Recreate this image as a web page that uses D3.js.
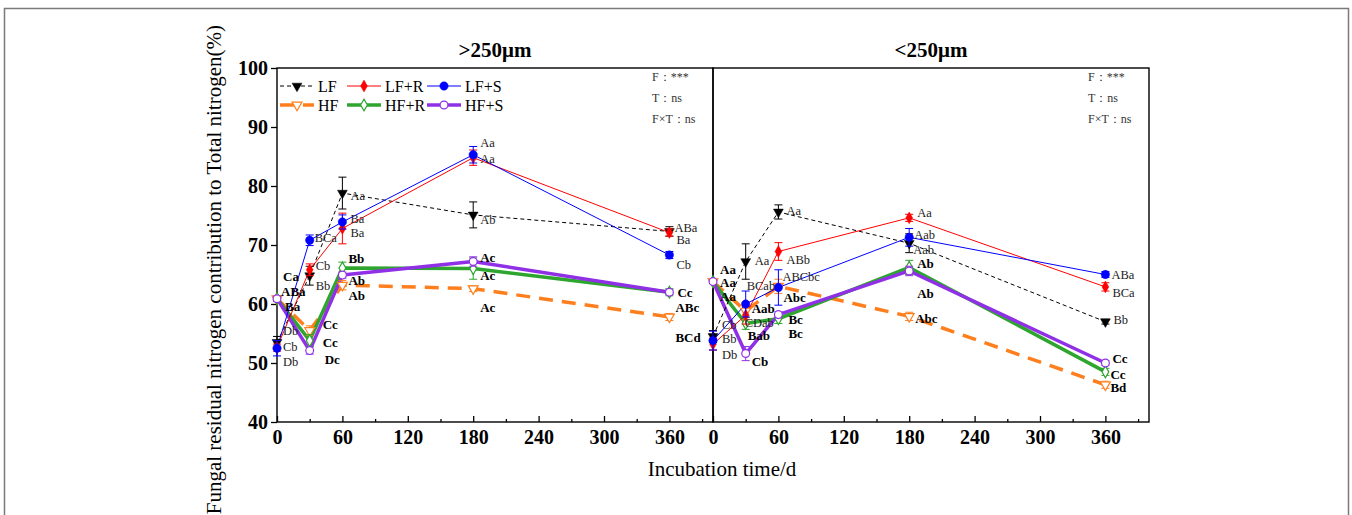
<!DOCTYPE html>
<html lang="en">
<head>
<meta charset="utf-8">
<title>Fungal residual nitrogen contribution</title>
<script src="https://cdn.jsdelivr.net/npm/d3@7"></script>
<style>
  body { margin: 0; background: #fff; }
  svg { display: block; }
</style>
</head>
<body>
<svg id="chart" width="1352" height="515"></svg>
<script>
// ---- data ----
const days = [0, 30, 60, 180, 360];
const seriesNames = ["LF", "LF+R", "LF+S", "HF", "HF+R", "HF+S"];
const panelTitles = [">250μm", "<250μm"];
const xTicks = [0, 60, 120, 180, 240, 300, 360];
const xMinorTicks = [30, 90, 150, 210, 270, 330, 390];
const yTicks = [40, 50, 60, 70, 80, 90, 100];
const statLines = ["F：***", "T：ns", "F×T：ns"];

// >250μm aggregates
const coarseLF  = [53.5, 64.8, 78.8, 75.1, 72.3];
const coarseLFR = [52.6, 65.8, 72.8, 84.8, 72.1];
const coarseLFS = [52.5, 70.8, 73.9, 85.3, 68.3];
const coarseHF  = [60.9, 55.5, 63.2, 62.6, 57.8];
const coarseHFR = [60.9, 53.8, 66.1, 66.0, 62.0];
const coarseHFS = [60.9, 52.1, 64.9, 67.2, 62.0];
const coarseErr = [
  [1.0, 1.6, 2.7, 2.2, 0.8],
  [0.6, 1.0, 2.6, 1.3, 0.6],
  [1.3, 0.9, 1.2, 1.4, 0.6],
  [0.4, 0.8, 0.8, 0.5, 0.6],
  [0.4, 1.0, 1.0, 1.8, 0.6],
  [0.4, 0.6, 0.5, 0.8, 0.4]
];
const coarseLetters = [
  ["Db", "Bb", "Aa", "Ab", "ABa"],
  ["Cb", "Cb", "Ba", "Aa", "Ba"],
  ["Db", "BCa", "Ba", "Aa", "Cb"],
  ["Ca", "Cc", "Ab", "Ac", "BCd"],
  ["ABa", "Cc", "Bb", "Ac", "ABc"],
  ["Ba", "Dc", "Ab", "Ac", "Cc"]
];

// <250μm aggregates
const fineLF  = [54.5, 67.2, 75.6, 70.3, 57.0];
const fineLFR = [53.2, 58.1, 68.9, 74.6, 62.9];
const fineLFS = [53.8, 60.0, 62.8, 71.3, 65.0];
const fineHF  = [63.8, 58.8, 63.0, 57.9, 46.3];
const fineHFR = [63.8, 56.7, 57.5, 66.2, 48.5];
const fineHFS = [63.8, 51.6, 58.2, 65.6, 50.0];
const fineErr = [
  [1.0, 3.0, 1.2, 1.6, 0.4],
  [1.0, 1.5, 1.5, 0.6, 0.7],
  [1.6, 2.2, 3.0, 1.5, 0.5],
  [0.3, 1.5, 1.2, 0.7, 0.6],
  [0.3, 1.0, 0.8, 1.2, 0.6],
  [0.3, 1.2, 0.5, 0.8, 0.4]
];
const fineLetters = [
  ["Cb", "Aa", "Aa", "Aab", "Bb"],
  ["Db", "CDab", "ABb", "Aa", "BCa"],
  ["Bb", "BCab", "ABCbc", "Aab", "ABa"],
  ["Aa", "Aab", "Abc", "Abc", "Bd"],
  ["Aa", "Bab", "Bc", "Ab", "Cc"],
  ["Aa", "Cb", "Bc", "Ab", "Cc"]
];

// ---- styling / layout ----
const serif = "'Liberation Serif', 'Times New Roman', serif";
const styles = [
  { color: "#000000", width: 1,   dash: "4,3",  symbol: d3.symbolTriangle, rot: 180, fill: true,  size: 42 },
  { color: "#ff0000", width: 1,   dash: null,   symbol: d3.symbolDiamond,  rot: 0,   fill: true,  size: 40 },
  { color: "#0000ff", width: 1,   dash: null,   symbol: d3.symbolCircle,   rot: 0,   fill: true,  size: 55 },
  { color: "#ff7f1e", width: 3.5, dash: "14,9", symbol: d3.symbolTriangle, rot: 180, fill: false, size: 42 },
  { color: "#2ea52e", width: 3.5, dash: null,   symbol: d3.symbolDiamond,  rot: 0,   fill: false, size: 40 },
  { color: "#9030e6", width: 3.5, dash: null,   symbol: d3.symbolCircle,   rot: 0,   fill: false, size: 48 }
];

// letter label nudges [dx, dy] in px, relative to each point
const coarseNudge = [
  [[6, -12], [6, 10], [8, 2], [7, 5], [5, -4]],
  [[6, -1], [6, -4], [8, 4], [7, 1], [7, 7]],
  [[6, 13], [5, -3], [8, -3], [7, -12], [7, 9]],
  [[6, -22], [13, -6], [6, 10], [7, 19], [6, 21]],
  [[4, -7], [13, 2], [6, -10], [7, 7], [6, 15]],
  [[8, 8], [15, 9], [6, 5], [7, -4], [8, 0]]
];
const fineNudge = [
  [[9, -12], [9, -1], [8, -1], [4, 6], [8, -2]],
  [[9, 10], [-1, 7], [8, 8], [8, -5], [7, 6]],
  [[9, -2], [1, -19], [4, -11], [5, -3], [6, 0]],
  [[7, -12], [6, -3], [5, 11], [6, 2], [5, 3]],
  [[7, 1], [2, 12], [10, 15], [8, -4], [5, 3]],
  [[7, 15], [6, 8], [10, 5], [8, 23], [7, -5]]
];

const panels = [
  { x0: 277, means: [coarseLF, coarseLFR, coarseLFS, coarseHF, coarseHFR, coarseHFS],
    err: coarseErr, letters: coarseLetters, nudge: coarseNudge, legend: true },
  { x0: 713, means: [fineLF, fineLFR, fineLFS, fineHF, fineHFR, fineHFS],
    err: fineErr, letters: fineLetters, nudge: fineNudge, legend: false }
];

const panelW = 436, plotTop = 68, plotBottom = 422;
const svg = d3.select("#chart").attr("font-family", serif);

// outer figure frame
svg.append("rect").attr("x", 4.5).attr("y", 8.5).attr("width", 1344).attr("height", 520)
  .attr("fill", "none").attr("stroke", "#7a7a7a").attr("stroke-width", 1.5);

const y = d3.scaleLinear().domain([40, 100]).range([plotBottom, plotTop]);

const symbolPath = (s) => d3.symbol().type(s.symbol).size(s.size)();

panels.forEach((p, pi) => {
  const x = d3.scaleLinear().domain([0, 400]).range([p.x0, p.x0 + panelW]);
  const g = svg.append("g");

  // x axis major + minor ticks (inward)
  const xa = g.append("g").attr("transform", `translate(0,${plotBottom})`)
    .call(d3.axisBottom(x).tickValues(xTicks).tickSizeInner(-6).tickSizeOuter(0).tickPadding(8));
  xa.attr("font-family", serif).attr("font-size", 20).attr("font-weight", "bold");
  xa.selectAll("text").attr("fill", "#000");
  xa.select(".domain").remove();
  xa.selectAll("line").attr("stroke-width", 1.3);
  const xm = g.append("g").attr("transform", `translate(0,${plotBottom})`)
    .call(d3.axisBottom(x).tickValues(xMinorTicks).tickSizeInner(-3).tickSizeOuter(0).tickFormat(""));
  xm.select(".domain").remove();
  xm.selectAll("line").attr("stroke-width", 1.3);

  if (pi === 0) {
    const ya = g.append("g").attr("transform", `translate(${p.x0},0)`)
      .call(d3.axisLeft(y).tickValues(yTicks).tickSize(6).tickPadding(3));
    ya.attr("font-family", serif).attr("font-size", 20).attr("font-weight", "bold");
    ya.select(".domain").remove();
    ya.selectAll("line").attr("stroke-width", 1.3);
    ya.selectAll("text").attr("fill", "#000");
  }

  // panel frame
  g.append("rect").attr("x", p.x0).attr("y", plotTop).attr("width", panelW).attr("height", plotBottom - plotTop)
    .attr("fill", "none").attr("stroke", "#000").attr("stroke-width", 1.4);

  // title
  g.append("text").attr("x", p.x0 + panelW / 2).attr("y", 57).attr("text-anchor", "middle")
    .attr("font-size", 21).attr("font-weight", "bold").text(panelTitles[pi]);

  // stats
  statLines.forEach((t, i) => {
    g.append("text").attr("x", p.x0 + 375).attr("y", 81 + i * 21)
      .attr("font-size", 12).attr("fill", "#333").text(t);
  });

  // series: HF group first, then LF group on top
  const order = [3, 4, 5, 0, 1, 2];
  const line = d3.line().x((d, i) => x(days[i])).y(d => y(d));
  order.forEach(si => {
    const s = styles[si];
    g.append("path").datum(p.means[si]).attr("d", line)
      .attr("fill", "none").attr("stroke", s.color).attr("stroke-width", s.width)
      .attr("stroke-dasharray", s.dash).attr("stroke-linejoin", "round");
  });
  order.forEach(si => {
    const s = styles[si];
    const vals = p.means[si];
    const eg = g.append("g").attr("stroke", s.color).attr("stroke-width", 1);
    vals.forEach((v, i) => {
      const e = p.err[si][i], cx = x(days[i]);
      eg.append("line").attr("x1", cx).attr("x2", cx).attr("y1", y(v - e)).attr("y2", y(v + e));
      [v - e, v + e].forEach(w => {
        eg.append("line").attr("x1", cx - 4).attr("x2", cx + 4).attr("y1", y(w)).attr("y2", y(w));
      });
    });
    g.selectAll(null).data(vals).enter().append("path")
      .attr("d", symbolPath(s))
      .attr("transform", (d, i) => `translate(${x(days[i])},${y(d)}) rotate(${s.rot})`)
      .attr("fill", s.fill ? s.color : "#fff")
      .attr("stroke", s.color).attr("stroke-width", s.fill ? 0.5 : 1.2);
  });

  // significance letters
  order.forEach(si => {
    const bold = si >= 3;
    p.means[si].forEach((v, i) => {
      const n = p.nudge[si][i];
      g.append("text").attr("x", x(days[i]) + n[0]).attr("y", y(v) + n[1] + 4.5)
        .attr("font-size", bold ? 13 : 12.5).attr("font-weight", bold ? "bold" : "normal")
        .attr("fill", bold ? "#000" : "#222").text(p.letters[si][i]);
    });
  });

  // legend
  if (p.legend) {
    const cols = [280, 347, 427];
    seriesNames.forEach((name, si) => {
      const s = styles[si];
      const lx = cols[si % 3], ly = si < 3 ? 86 : 105;
      g.append("line").attr("x1", lx).attr("x2", lx + 34).attr("y1", ly).attr("y2", ly)
        .attr("stroke", s.color).attr("stroke-width", s.width).attr("stroke-dasharray", s.dash);
      g.append("path").attr("d", symbolPath(s))
        .attr("transform", `translate(${lx + 17},${ly}) rotate(${s.rot})`)
        .attr("fill", s.fill ? s.color : "#fff").attr("stroke", s.color)
        .attr("stroke-width", s.fill ? 0.5 : 1.2);
      g.append("text").attr("x", lx + 38).attr("y", ly + 6).attr("font-size", 16).text(name);
    });
  }
});

// axis titles
svg.append("text").attr("x", 722).attr("y", 476).attr("text-anchor", "middle")
  .attr("font-size", 21).text("Incubation time/d");
svg.append("text").attr("transform", "translate(221,25) rotate(-90)").attr("text-anchor", "end")
  .attr("font-size", 21).text("Fungal residual nitrogen contribution to Total nitrogen(%)");
</script>
</body>
</html>
